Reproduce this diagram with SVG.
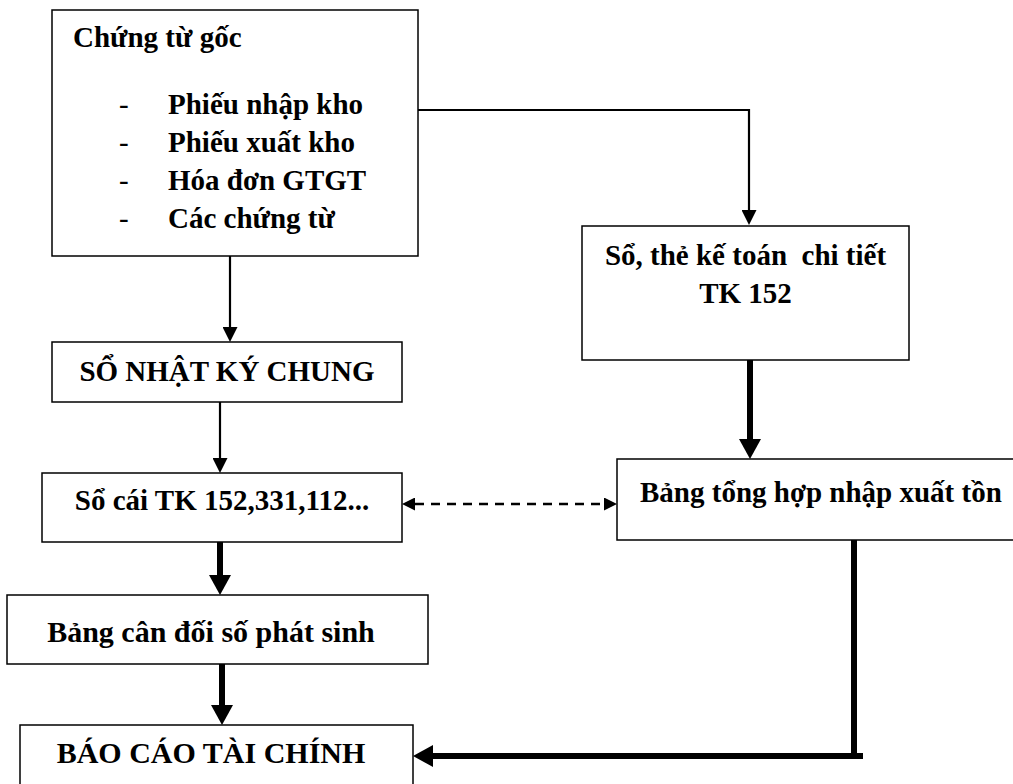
<svg xmlns="http://www.w3.org/2000/svg" width="1013" height="784" viewBox="0 0 1013 784">
<style>
.box{fill:#fff;stroke:#000;stroke-width:1.5}
.t{font-family:"Liberation Serif","Times New Roman",serif;font-weight:bold;font-size:29px;fill:#000}
.c{text-anchor:middle}
.dash{font-family:"Liberation Serif","Times New Roman",serif;font-weight:normal;font-size:29px;fill:#000}
.thin{fill:none;stroke:#000;stroke-width:2.2;marker-end:url(#ah)}
.thick{fill:none;stroke:#000;stroke-width:6}
.arr{marker-end:url(#ahb)}
.dashed{fill:none;stroke:#000;stroke-width:2.6;stroke-dasharray:9 7;marker-start:url(#ahd);marker-end:url(#ahd)}
</style>
<defs>
<marker id="ah" markerUnits="userSpaceOnUse" markerWidth="15" markerHeight="15" refX="0" refY="7.5" orient="auto"><path d="M0,0 L15,7.5 L0,15 z" fill="#000"/></marker>
<marker id="ahb" markerUnits="userSpaceOnUse" markerWidth="20" markerHeight="22" refX="0" refY="11" orient="auto"><path d="M0,0 L20,11 L0,22 z" fill="#000"/></marker>
<marker id="ahd" markerUnits="userSpaceOnUse" markerWidth="13" markerHeight="13" refX="0" refY="6.5" orient="auto-start-reverse"><path d="M0,0 L13,6.5 L0,13 z" fill="#000"/></marker>
</defs>
<rect width="1013" height="784" fill="#fff"/>
<g id="connectors">
<path class="thin" d="M418,110 H749 V210"/>
<path class="thin" d="M230,256 V327"/>
<path class="thin" d="M220,402 V458"/>
<path class="dashed" d="M415,504 H604"/>
<path class="thick arr" d="M750,360 V439"/>
<path class="thick arr" d="M220,542 V575"/>
<path class="thick arr" d="M222,664 V705"/>
<path class="thick" d="M854,540 V759"/>
<path class="thick arr" d="M863,756 H433"/>
</g>
<g id="chung-tu-goc">
<rect class="box" x="52" y="10" width="366" height="246"/>
<text class="t" x="73" y="47">Chứng từ gốc</text>
<text class="dash" x="119" y="114">-</text>
<text class="t" x="168" y="114">Phiếu nhập kho</text>
<text class="dash" x="119" y="152">-</text>
<text class="t" x="168" y="152">Phiếu xuất kho</text>
<text class="dash" x="119" y="190">-</text>
<text class="t" x="168" y="190">Hóa đơn GTGT</text>
<text class="dash" x="119" y="228">-</text>
<text class="t" x="168" y="228">Các chứng từ</text>
</g>
<g id="so-the-ke-toan">
<rect class="box" x="582" y="226" width="327" height="134"/>
<text class="t c" x="745.5" y="265" xml:space="preserve">Sổ, thẻ kế toán  chi tiết</text>
<text class="t c" x="745.5" y="303">TK 152</text>
</g>
<g id="so-nhat-ky-chung">
<rect class="box" x="52" y="342" width="350" height="60"/>
<text class="t c" x="227" y="381">SỔ NHẬT KÝ CHUNG</text>
</g>
<g id="so-cai">
<rect class="box" x="42" y="473" width="360" height="69"/>
<text class="t c" x="222" y="510">Sổ cái TK 152,331,112...</text>
</g>
<g id="bang-tong-hop">
<rect class="box" x="617" y="459" width="410" height="81"/>
<text class="t" x="640" y="502">Bảng tổng hợp nhập xuất tồn</text>
</g>
<g id="bang-can-doi">
<rect class="box" x="7" y="595" width="421" height="69"/>
<text class="t c" x="211" y="642" style="font-size:30px">Bảng cân đối số phát sinh</text>
</g>
<g id="bao-cao-tai-chinh">
<rect class="box" x="20" y="725" width="393" height="80"/>
<text class="t c" x="211" y="763" style="font-size:30px">BÁO CÁO TÀI CHÍNH</text>
</g>
</svg>
